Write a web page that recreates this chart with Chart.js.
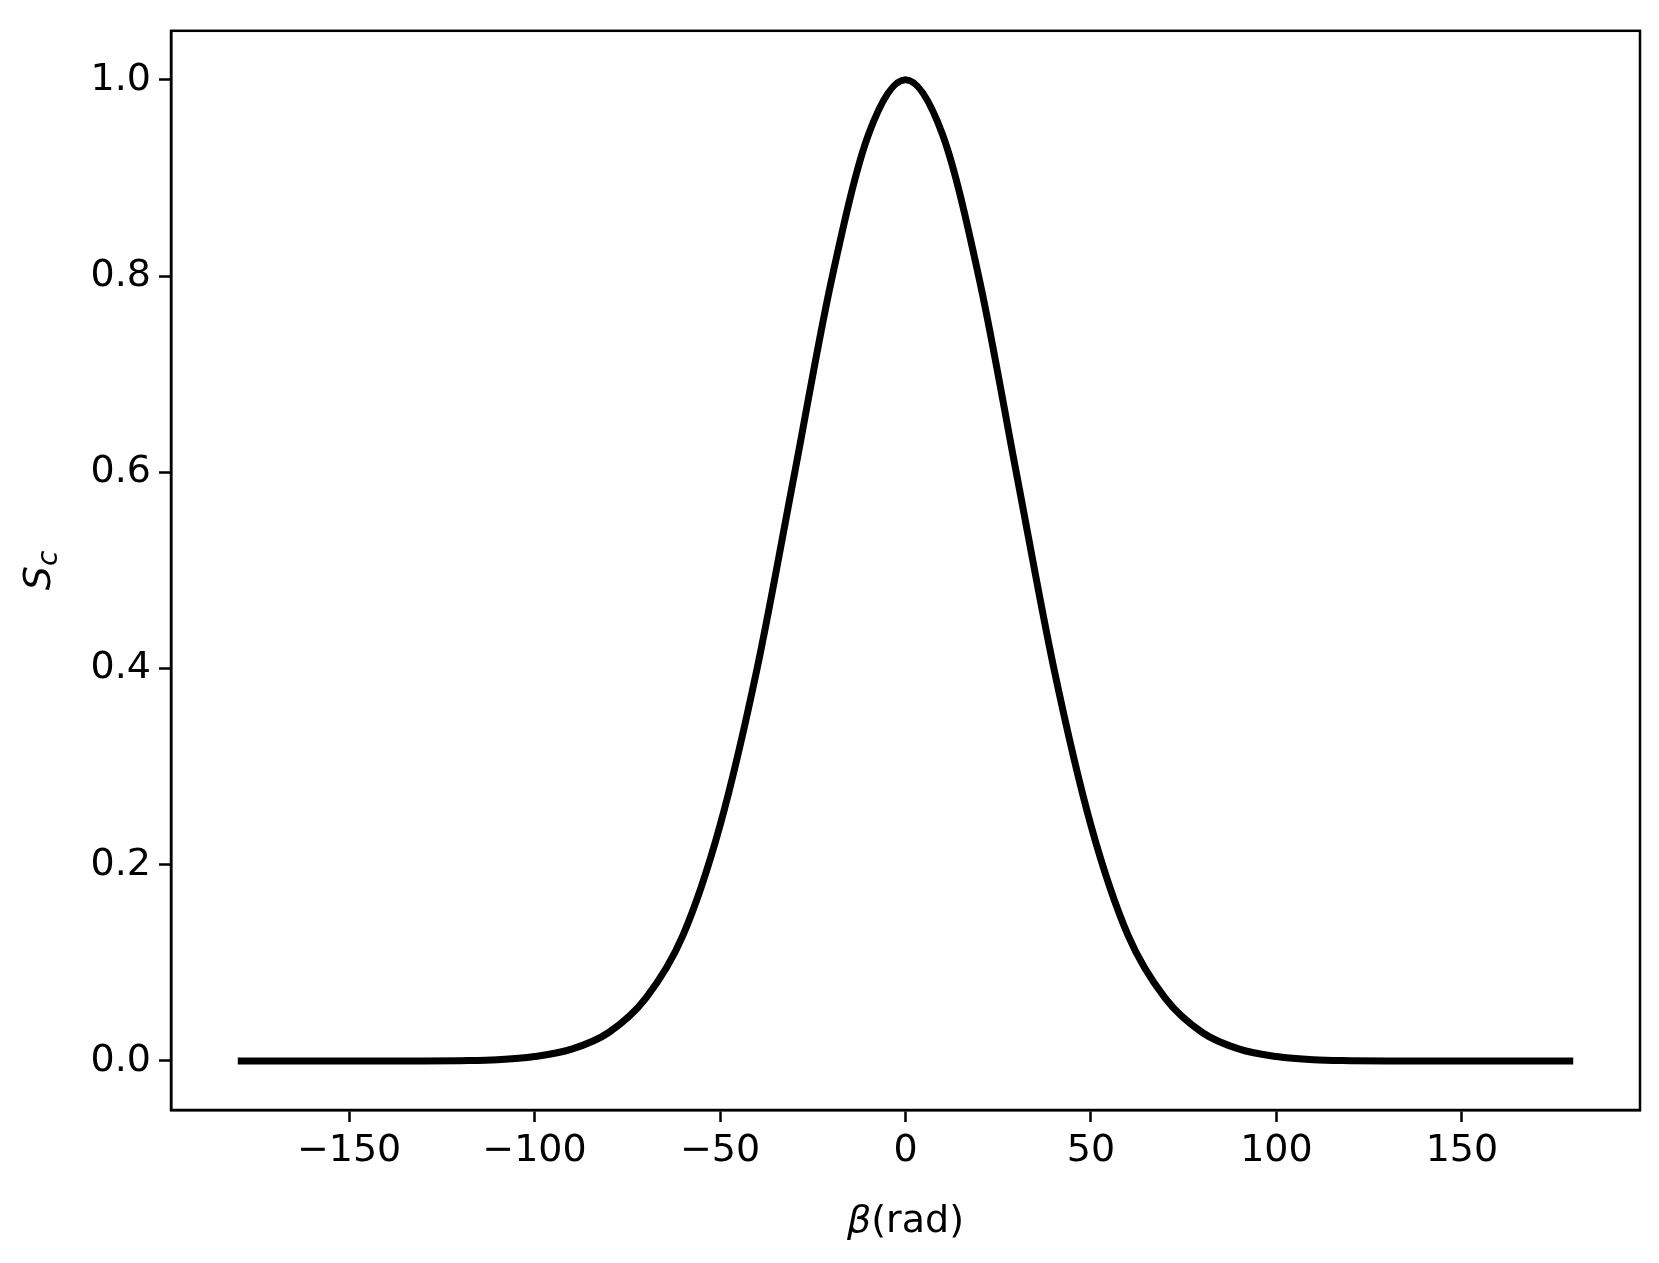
<!DOCTYPE html><html><head><meta charset="utf-8">
<script src="https://cdn.jsdelivr.net/npm/chart.js@4"></script>
<style>html,body{margin:0;background:#fff}#w{width:1659px;height:1263px}</style></head><body>
<div id="w"><canvas id="c"></canvas></div>
<script>
const betaValues=[-180,-170,-160,-150,-140,-130,-120,-110,-100,-90,-80,-70,-60,-50,-40,-30,-20,-10,0,10,20,30,40,50,60,70,80,90,100,110,120,130,140,150,160,170,180];
const scValues=[0,0,0,0,0,0,0.0003,0.0012,0.0045,0.012,0.029,0.064,0.128,0.24,0.40,0.597,0.795,0.944,1.0,0.944,0.795,0.597,0.40,0.24,0.128,0.064,0.029,0.012,0.0045,0.0012,0.0003,0,0,0,0,0,0];
const xTicks=[-150,-100,-50,0,50,100,150];
const yTicks=[0,0.2,0.4,0.6,0.8,1.0];
const F='"DejaVu Sans"';
const titles={id:'titles',afterDraw(ch){const c=ch.ctx;c.save();c.fillStyle='#000';c.textBaseline='middle';
 const xc=(ch.chartArea.left+ch.chartArea.right)/2;
 c.font='italic 38px '+F;const b='β';c.font='38px '+F;const r='(rad)';
 c.font='italic 38px '+F;const wb=c.measureText(b).width;c.font='38px '+F;const wr=c.measureText(r).width;
 let x0=xc-(wb+wr)/2;c.textAlign='left';c.font='italic 38px '+F;c.fillText(b,x0,1222);c.font='38px '+F;c.fillText(r,x0+wb,1222);
 c.translate(40,(ch.chartArea.top+ch.chartArea.bottom)/2);c.rotate(-Math.PI/2);
 c.font='italic 38px '+F;const ws=c.measureText('S').width;c.font='italic 28px '+F;const wc=c.measureText('c').width;
 const s0=-(ws+wc)/2;c.font='italic 38px '+F;c.fillText('S',s0,0);c.font='italic 28px '+F;c.fillText('c',s0+ws,10);
 c.restore();}};
new Chart(document.getElementById('c'),{type:'line',
 data:{datasets:[{data:betaValues.map((b,i)=>({x:b,y:scValues[i]})),borderColor:'#000',borderWidth:7,pointRadius:0,cubicInterpolationMode:'monotone',fill:false}]},
 options:{responsive:true,maintainAspectRatio:false,animation:false,devicePixelRatio:1,
  layout:{padding:{top:18,right:19,left:0,bottom:0}},
  plugins:{legend:{display:false},tooltip:{enabled:false}},
  scales:{
   x:{type:'linear',min:-198,max:198,afterBuildTicks:a=>{a.ticks=xTicks.map(v=>({value:v}))},
    afterFit:a=>{a.height=153},
    grid:{drawOnChartArea:false,drawTicks:true,tickLength:12,tickWidth:2.5,tickColor:'#000'},
    border:{display:true,color:'#000',width:2.5},
    ticks:{color:'#000',font:{family:F,size:38},padding:6,maxRotation:0,callback:v=>String(v).replace('-','\u2212')}},
   y:{type:'linear',min:-0.05,max:1.05,afterBuildTicks:a=>{a.ticks=yTicks.map(v=>({value:v}))},
    afterFit:a=>{a.width=171},
    grid:{drawOnChartArea:false,drawTicks:true,tickLength:12,tickWidth:2.5,tickColor:'#000'},
    border:{display:true,color:'#000',width:2.5},
    ticks:{color:'#000',font:{family:F,size:38},padding:8,callback:v=>v.toFixed(1)}}
  }},
 plugins:[titles,{id:'frame',afterDraw(ch){const c=ch.ctx,a=ch.chartArea;c.save();c.strokeStyle='#000';c.lineWidth=2.5;c.strokeRect(a.left,a.top,a.right-a.left,a.bottom-a.top);c.restore();}}]
});
</script></body></html>
